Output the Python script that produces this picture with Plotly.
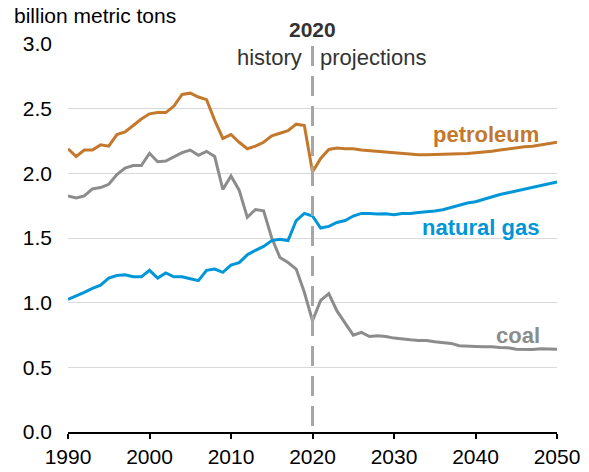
import plotly.graph_objects as go

years = list(range(1990, 2051))

petroleum = [2.19, 2.13, 2.18, 2.18, 2.22, 2.21, 2.30, 2.32, 2.37, 2.42,
             2.46, 2.47, 2.47, 2.52, 2.61, 2.62, 2.59, 2.57, 2.41, 2.27,
             2.30, 2.24, 2.19, 2.21, 2.24, 2.29, 2.31, 2.33, 2.38, 2.37,
             2.01,
             2.115, 2.185, 2.195, 2.19, 2.19, 2.18, 2.175, 2.17, 2.165, 2.16,
             2.15, 2.146, 2.144, 2.144, 2.146, 2.146, 2.15, 2.15, 2.154, 2.16,
             2.164, 2.17, 2.18, 2.19, 2.197, 2.205, 2.21, 2.22, 2.23, 2.24]

natural_gas = [1.026, 1.05, 1.08, 1.11, 1.135, 1.19, 1.21, 1.215, 1.20, 1.20,
               1.25, 1.19, 1.23, 1.20, 1.20, 1.185, 1.17, 1.25, 1.26, 1.235,
               1.29, 1.31, 1.37, 1.405, 1.435, 1.48, 1.49, 1.48, 1.635, 1.69,
               1.67,
               1.577, 1.59, 1.62, 1.635, 1.67, 1.69, 1.69, 1.685, 1.687, 1.68,
               1.69, 1.69, 1.697, 1.70, 1.708, 1.718, 1.736, 1.75, 1.77, 1.78,
               1.80, 1.82, 1.836, 1.85, 1.864, 1.877, 1.89, 1.905, 1.92, 1.933]

coal = [1.825, 1.81, 1.825, 1.88, 1.89, 1.915, 1.99, 2.04, 2.06, 2.06,
        2.155, 2.09, 2.095, 2.13, 2.16, 2.18, 2.14, 2.17, 2.13, 1.875,
        1.98, 1.87, 1.66, 1.72, 1.71, 1.50, 1.35, 1.31, 1.26, 1.08,
        0.86,
        1.018, 1.07, 0.936, 0.84, 0.749, 0.77, 0.738, 0.744, 0.738, 0.726,
        0.718, 0.713, 0.708, 0.708, 0.697, 0.692, 0.685, 0.667, 0.662, 0.662,
        0.66, 0.66, 0.654, 0.651, 0.64, 0.64, 0.638, 0.644, 0.644, 0.64]

x_ticks = [1990, 2000, 2010, 2020, 2030, 2040, 2050]
y_ticks = [0.0, 0.5, 1.0, 1.5, 2.0, 2.5, 3.0]
divider_year = 2020

C_PET = "#C4782C"
C_GAS = "#0096D7"
C_COAL = "#8C8C8C"
FONT = "Liberation Sans, Arial, sans-serif"

W, H = 589, 472
ML, MR, MT, MB = 68, 32, 44, 40
PW, PH = W - ML - MR, H - MT - MB


def py(page_y):
    return (MT + PH - page_y) / PH


def px(page_x):
    return (page_x - ML) / PW


fig = go.Figure()
for name, vals, col in [("coal", coal, C_COAL), ("natural gas", natural_gas, C_GAS),
                        ("petroleum", petroleum, C_PET)]:
    fig.add_trace(go.Scatter(x=years, y=vals, mode="lines", name=name,
                             line=dict(color=col, width=3), showlegend=False))

fig.add_shape(type="line", xref="x", yref="paper", x0=divider_year, x1=divider_year,
              y0=py(46), y1=0, line=dict(color="#A6A6A6", width=3, dash="20px,10px"),
              layer="above")

ann = [
    dict(text="<b>2020</b>", x=divider_year, y=py(30), xref="x", yref="paper",
         showarrow=False, font=dict(size=21, color="#333333"), xanchor="center", yanchor="middle"),
    dict(text="history", x=divider_year, y=py(57), xref="x", yref="paper",
         showarrow=False, font=dict(size=22, color="#333333"), xanchor="right", yanchor="middle", xshift=-9),
    dict(text="projections", x=divider_year, y=py(57), xref="x", yref="paper",
         showarrow=False, font=dict(size=22, color="#333333"), xanchor="left", yanchor="middle", xshift=5),
    dict(text="<b>petroleum</b>", x=2048, y=2.297, showarrow=False,
         font=dict(size=22, color=C_PET), xanchor="right", yanchor="middle"),
    dict(text="<b>natural gas</b>", x=2048, y=1.585, showarrow=False,
         font=dict(size=22, color=C_GAS), xanchor="right", yanchor="middle"),
    dict(text="<b>coal</b>", x=2048.2, y=0.75, showarrow=False,
         font=dict(size=22, color=C_COAL), xanchor="right", yanchor="middle"),
    dict(text="billion metric tons", x=px(12), y=py(15), xref="paper", yref="paper",
         showarrow=False, font=dict(size=21, color="#000000"), xanchor="left", yanchor="middle"),
]

fig.update_layout(
    width=W, height=H,
    margin=dict(l=ML, r=MR, t=MT, b=MB, autoexpand=False),
    paper_bgcolor="white", plot_bgcolor="white",
    font=dict(family=FONT, size=21, color="#000000"),
    xaxis=dict(range=[1990, 2050], tickvals=x_ticks, ticks="outside", ticklen=5,
               tickcolor="#000000", tickwidth=1.5, showgrid=False, showline=True,
               linecolor="#000000", linewidth=2, zeroline=False, automargin=False,
               tickfont=dict(size=21)),
    yaxis=dict(range=[0, 3.0], tickvals=y_ticks, tickformat=".1f", showgrid=True,
               gridcolor="#D9D9D9", gridwidth=1, zeroline=False, showline=False,
               ticks="", ticklabelstandoff=15, automargin=False, tickfont=dict(size=21)),
    annotations=ann,
)

fig.write_html("out.html", config={"displayModeBar": False},
               post_script="document.body.style.margin='0';document.body.style.padding='0';"
                           "document.documentElement.style.overflow='hidden';")
